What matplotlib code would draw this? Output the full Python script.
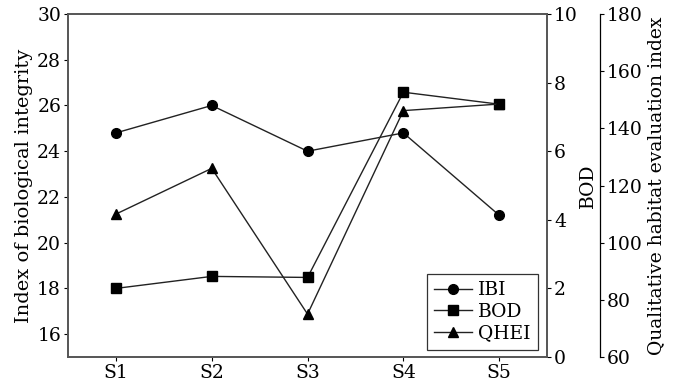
import matplotlib
matplotlib.use("Agg")
import matplotlib.pyplot as plt

plt.rcParams['font.family'] = ['DejaVu Serif']

sites = ["S1", "S2", "S3", "S4", "S5"]
ibi = [24.8, 26.0, 24.0, 24.8, 21.2]
bod = [2.0, 2.35, 2.32, 7.72, 7.37]
qhei = [110.0, 126.0, 75.0, 146.2, 148.5]

x = list(range(1, len(sites) + 1))
fs = 13.5

fig = plt.figure(figsize=(6.83, 3.90), dpi=100)
ax = fig.add_axes([0.0996, 0.0846, 0.7014, 0.8795])
ax2 = ax.twinx()
ax3 = ax.twinx()

l1, = ax.plot(x, ibi, color='#222222', lw=1.0, marker='o', ms=7, mfc='black', mec='black', label='IBI')
l2, = ax2.plot(x, bod, color='#222222', lw=1.0, marker='s', ms=6.5, mfc='black', mec='black', label='BOD')
l3, = ax3.plot(x, qhei, color='#222222', lw=1.0, marker='^', ms=7, mfc='black', mec='black', label='QHEI')

ax.set_xlim(0.5, 5.5)
ax.set_ylim(15, 30)
ax.set_yticks(range(16, 31, 2))
ax.set_xticks(x)
ax.set_xticklabels(sites)
ax.set_ylabel("Index of biological integrity", fontsize=fs + 0.5, labelpad=3)

ax2.set_ylim(0, 10)
ax2.set_yticks(range(0, 11, 2))
ax2.set_ylabel("BOD", fontsize=fs, labelpad=1)

ax3.set_ylim(60, 180)
ax3.set_yticks(range(60, 181, 20))
ax3.spines['right'].set_position(('outward', 38))
ax3.set_ylabel("Qualitative habitat evaluation index", fontsize=fs, labelpad=3)

gray = '#555555'
for a in (ax, ax2):
    for s in a.spines.values():
        s.set_color(gray)
        s.set_linewidth(1.2)
for s in ('left', 'top', 'bottom'):
    ax3.spines[s].set_visible(False)
ax3.spines['right'].set_color('black')
ax3.spines['right'].set_linewidth(0.9)

for a in (ax, ax2, ax3):
    a.tick_params(labelsize=fs, length=3, width=0.8, direction='out', pad=2)

leg = ax.legend(handles=[l1, l2, l3], loc='lower right', fontsize=fs, frameon=True,
                fancybox=False, edgecolor='black', handlelength=2.0,
                borderpad=0.4, labelspacing=0.2, handletextpad=0.3,
                borderaxespad=0, bbox_to_anchor=(0.98, 0.02))
leg.get_frame().set_linewidth(0.9)

fig.savefig("out.png", dpi=100)
